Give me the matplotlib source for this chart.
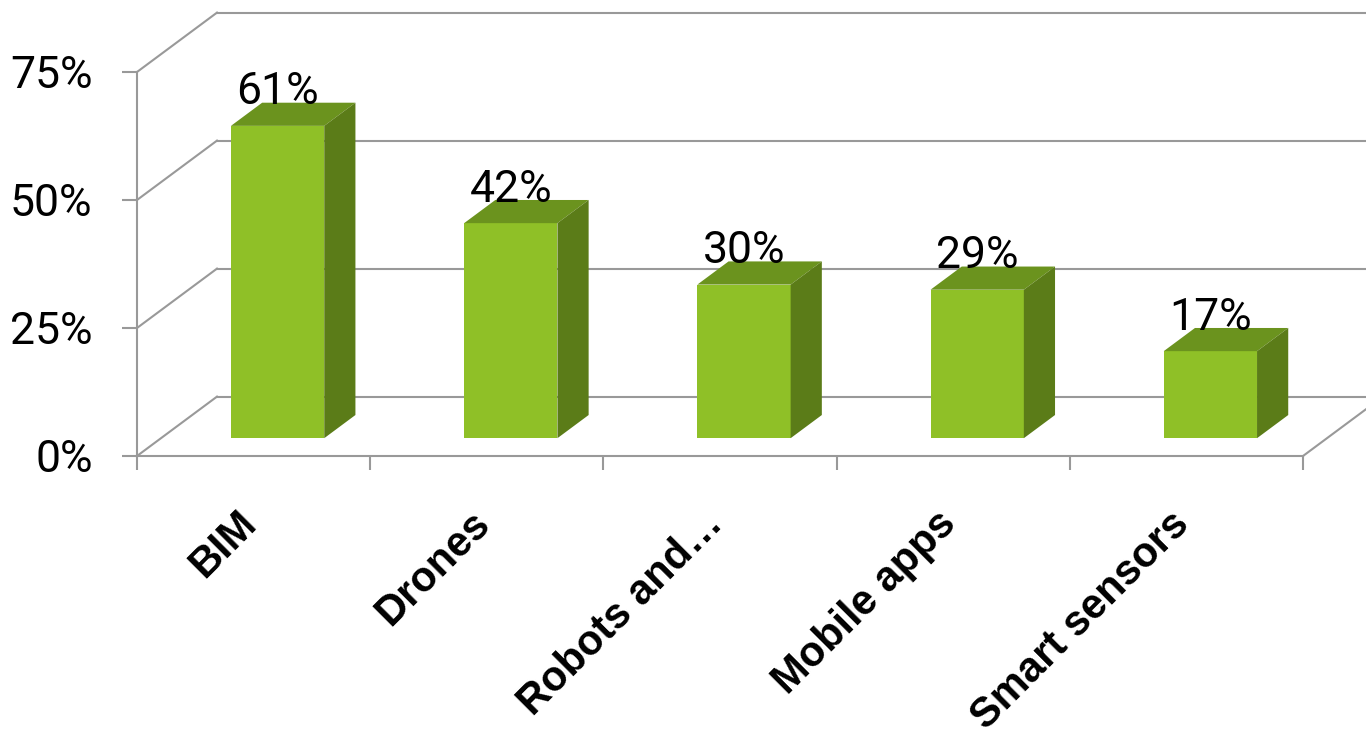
import numpy as np
import matplotlib
matplotlib.use("Agg")
import matplotlib.pyplot as plt
from matplotlib.patches import Polygon

# data
categories = ["BIM", "Drones", "Robots and\u2026", "Mobile apps", "Smart sensors"]
values = [61, 42, 30, 29, 17]
yticks = [0, 25, 50, 75]
ytick_labels = ["0%", "25%", "50%", "75%"]

# fake 3d look: depth of the floor in data units (x in categories, y in %)
DX = 0.343
DY = 11.6
bar_w = 0.4
bar_front = 0.3     # fraction of depth where the bar front sits
bar_depth = 0.39    # fraction of depth the bar takes

front_col = "#8fc027"
top_col = "#6b931e"
side_col = "#5b7c18"
grid_col = "#999999"

num_font = ["Roboto", "DejaVu Sans"]
num_size = 32

fig = plt.figure(figsize=(13.66, 7.47), dpi=100)
ax = fig.add_axes([137/1366, (747-456)/747, 1166/1366, 384/747])
ax.set_xlim(0, len(categories))
ax.set_ylim(0, 75)

# back wall grid lines and side wall diagonals
for v in yticks:
    ax.plot([DX, len(categories) + DX + 1], [v + DY, v + DY], color=grid_col, lw=1.5, clip_on=False, zorder=1)
    ax.plot([0, DX], [v, v + DY], color=grid_col, lw=1.5, clip_on=False, zorder=1)
# right edge of the floor
ax.plot([len(categories), len(categories) + DX], [0, DY], color=grid_col, lw=1.5, clip_on=False, zorder=1)

# bars
ox = bar_front * DX
oy = bar_front * DY
dxb = bar_depth * DX
dyb = bar_depth * DY
for i, v in enumerate(values):
    c = i + 0.5 + ox
    x0 = c - bar_w / 2
    x1 = c + bar_w / 2
    ax.bar(c, v, bottom=oy, width=bar_w, color=front_col, zorder=3, clip_on=False)
    top = [(x0, v + oy), (x1, v + oy), (x1 + dxb, v + oy + dyb), (x0 + dxb, v + oy + dyb)]
    side = [(x1, oy), (x1 + dxb, oy + dyb), (x1 + dxb, v + oy + dyb), (x1, v + oy)]
    ax.add_patch(Polygon(top, closed=True, facecolor=top_col, edgecolor="none", zorder=3, clip_on=False))
    ax.add_patch(Polygon(side, closed=True, facecolor=side_col, edgecolor="none", zorder=3, clip_on=False))
    ax.text(c, v + oy + dyb - 0.3, str(v) + "%", ha="center", va="baseline",
            fontsize=num_size, family=num_font, zorder=4)

# axes
for s in ["top", "right"]:
    ax.spines[s].set_visible(False)
for s in ["left", "bottom"]:
    ax.spines[s].set_color(grid_col)
    ax.spines[s].set_linewidth(1.5)
ax.set_yticks(yticks)
ax.set_yticklabels(ytick_labels, fontsize=num_size, family=num_font)
ax.tick_params(axis="y", length=11, width=1.5, color=grid_col, pad=21)
ax.set_xticks(np.arange(len(categories) + 1))
ax.set_xticklabels([])
ax.tick_params(axis="x", length=10, width=1.5, color=grid_col)

for i, name in enumerate(categories):
    ax.text(i + 0.52, -13.6, name, rotation=45, rotation_mode="anchor",
            ha="right", va="baseline", fontsize=30, fontweight="bold",
            family="Liberation Sans", clip_on=False)

fig.savefig("out.png", dpi=100)
